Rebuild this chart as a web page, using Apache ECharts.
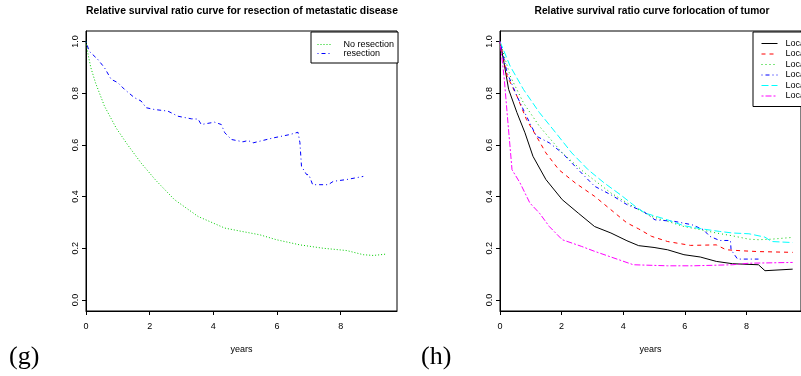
<!DOCTYPE html>
<html><head><meta charset="utf-8">
<script src="https://cdn.jsdelivr.net/npm/echarts@6/dist/echarts.min.js"></script>
<style>html,body{margin:0;padding:0;background:#fff}#c{width:801px;height:376px}</style>
</head><body><div id="c"></div>
<script>
const xTicks = [0, 2, 4, 6, 8];
const yTicks = [0, 0.2, 0.4, 0.6, 0.8, 1.0];

// Left panel: resection of metastatic disease
const noResT = [0, 0.05, 0.15, 0.3, 0.58, 0.95, 1.31, 1.73, 2.2, 2.78, 3.52, 4.36, 4.9, 5.46, 5.98, 6.72, 7.45, 8.19, 8.71, 9.03, 9.4];
const noResV = [1.0, 0.96, 0.9, 0.84, 0.75, 0.665, 0.6, 0.53, 0.462, 0.388, 0.323, 0.278, 0.265, 0.252, 0.233, 0.213, 0.2, 0.191, 0.175, 0.172, 0.177];
const resT = [0, 0.1, 0.37, 0.58, 0.79, 1.0, 1.21, 1.52, 1.73, 1.89, 2.15, 2.57, 2.89, 3.31, 3.52, 3.62, 4.04, 4.25, 4.36, 4.57, 4.93, 5.09, 5.25, 5.88, 6.4, 6.66, 6.72, 6.77, 6.93, 7.0, 7.12, 7.61, 7.77, 8.19, 8.71];
const resV = [1.0, 0.963, 0.931, 0.899, 0.854, 0.841, 0.815, 0.783, 0.77, 0.744, 0.737, 0.731, 0.711, 0.701, 0.70, 0.679, 0.688, 0.679, 0.647, 0.621, 0.612, 0.617, 0.608, 0.627, 0.64, 0.649, 0.609, 0.517, 0.485, 0.485, 0.446, 0.446, 0.459, 0.466, 0.478];

// Right panel: location of tumor
const loc1T = [0, 0.13, 0.28, 0.55, 0.81, 1.07, 1.49, 2.02, 2.54, 3.07, 3.6, 4.12, 4.5, 5.0, 5.44, 5.97, 6.5, 7.02, 7.55, 8.39, 8.6, 9.5];
const loc1V = [1.0, 0.918, 0.815, 0.725, 0.647, 0.556, 0.466, 0.388, 0.336, 0.284, 0.259, 0.229, 0.21, 0.203, 0.194, 0.175, 0.166, 0.149, 0.14, 0.136, 0.113, 0.119];
const loc2T = [0, 0.23, 0.55, 0.86, 1.18, 1.49, 1.91, 2.44, 3.07, 3.6, 4.12, 4.5, 4.92, 5.44, 6.18, 7.02, 7.34, 7.87, 8.39, 9.5];
const loc2V = [1.0, 0.867, 0.789, 0.698, 0.634, 0.569, 0.504, 0.453, 0.401, 0.349, 0.298, 0.275, 0.246, 0.226, 0.211, 0.213, 0.194, 0.19, 0.187, 0.184];
const loc3T = [0, 0.33, 0.76, 1.28, 2.02, 2.75, 3.6, 4.39, 4.92, 5.44, 5.97, 6.5, 7.02, 7.55, 8.08, 8.39, 8.81, 9.5];
const loc3V = [1.0, 0.867, 0.763, 0.672, 0.569, 0.492, 0.414, 0.356, 0.323, 0.304, 0.284, 0.272, 0.259, 0.248, 0.235, 0.233, 0.235, 0.242];
const loc4T = [0, 0.23, 0.55, 0.86, 1.18, 1.6, 2.02, 2.54, 3.07, 3.6, 4.12, 4.65, 5.03, 5.66, 6.23, 6.6, 6.81, 7.13, 7.48, 7.5, 7.71, 8.39];
const loc4V = [1.0, 0.88, 0.789, 0.711, 0.634, 0.608, 0.569, 0.504, 0.44, 0.407, 0.369, 0.343, 0.31, 0.304, 0.291, 0.272, 0.246, 0.23, 0.23, 0.194, 0.158, 0.158];
const loc5T = [0, 0.33, 0.76, 1.28, 1.81, 2.33, 2.86, 3.38, 3.91, 4.39, 4.71, 5.44, 5.97, 6.6, 7.13, 7.55, 8.08, 8.6, 8.81, 9.5];
const loc5V = [1.0, 0.905, 0.815, 0.725, 0.647, 0.569, 0.504, 0.453, 0.407, 0.362, 0.336, 0.31, 0.287, 0.274, 0.265, 0.259, 0.256, 0.243, 0.226, 0.222];
const loc6T = [0, 0.13, 0.23, 0.39, 0.65, 0.97, 1.28, 1.6, 2.02, 2.65, 3.07, 3.7, 4.33, 5.44, 5.5, 6.28, 7.55, 8.08, 9.5];
const loc6V = [1.0, 0.867, 0.725, 0.504, 0.453, 0.375, 0.336, 0.284, 0.233, 0.207, 0.188, 0.162, 0.136, 0.132, 0.127, 0.132, 0.136, 0.142, 0.145];

const FONT = 'Liberation Sans';
const zip = (t, v) => t.map((x, i) => [x, v[i]]);

function xAx(gi) {
  return {
    type: 'value', gridIndex: gi, min: 0, max: 9.77,
    axisLine: { show: true, onZero: false, lineStyle: { color: '#000', width: 1 } },
    axisTick: { show: true, customValues: xTicks, length: 4, lineStyle: { color: '#000' } },
    axisLabel: { customValues: xTicks, formatter: v => String(v), fontSize: 9, color: '#000', margin: 11, fontFamily: FONT },
    splitLine: { show: false },
    name: 'years', nameLocation: 'middle', nameGap: 34,
    nameTextStyle: { fontSize: 9, color: '#000', fontFamily: FONT }
  };
}
function yAx(gi) {
  return {
    type: 'value', gridIndex: gi, min: -0.043, max: 1.041,
    axisLine: { show: true, onZero: false, lineStyle: { color: '#000', width: 1 } },
    axisTick: { show: true, customValues: yTicks, length: 4, lineStyle: { color: '#000' } },
    axisLabel: { customValues: yTicks, formatter: v => v.toFixed(1), rotate: 90, fontSize: 9, color: '#000', margin: 6, fontFamily: FONT },
    splitLine: { show: false }
  };
}
function ln(name, gi, data, color, dash) {
  return {
    type: 'line', name, xAxisIndex: gi, yAxisIndex: gi, data, symbol: 'none', showSymbol: false,
    lineStyle: { color, width: 1, type: dash }, itemStyle: { color }, animation: false
  };
}
const legendBase = {
  orient: 'vertical', borderColor: '#000', borderWidth: 1, backgroundColor: '#fff',
  borderRadius: 0, inactiveColor: '#000', selectedMode: false, icon: 'inherit',
  itemStyle: { opacity: 0 }, lineStyle: { width: 1 }
};

const chart = echarts.init(document.getElementById('c'), null, { renderer: 'canvas' });
chart.setOption({
  animation: false,
  backgroundColor: '#fff',
  grid: [
    { left: 86, top: 31, width: 311, height: 280, show: true, borderColor: '#000', borderWidth: 1, backgroundColor: 'transparent' },
    { left: 500, top: 31, width: 311, height: 280, show: true, borderColor: '#000', borderWidth: 1, backgroundColor: 'transparent' }
  ],
  xAxis: [xAx(0), xAx(1)],
  yAxis: [yAx(0), yAx(1)],
  legend: [
    Object.assign({}, legendBase, {
      data: ['No resection', 'resection'], left: 311, top: 32, itemWidth: 14, itemHeight: 9, itemGap: 0,
      padding: [8, 4, 5, 6],
      textStyle: { fontSize: 9, fontFamily: FONT, color: '#000', padding: [0, 0, 0, 7] }
    }),
    Object.assign({}, legendBase, {
      data: ['Location 1', 'Location 2', 'Location 3', 'Location 4', 'Location 5', 'Location 6'],
      left: 753, top: 32, itemWidth: 16, itemHeight: 9, itemGap: 1.5, padding: [7, 4, 6, 8],
      textStyle: { fontSize: 9, fontFamily: FONT, color: '#000', padding: [0, 0, 0, 3] }
    })
  ],
  graphic: [
    { type: 'text', x: 242, y: 11, style: { text: 'Relative survival ratio curve for resection of metastatic disease', textAlign: 'center', textVerticalAlign: 'middle', font: 'bold 10.4px "Liberation Sans"', fill: '#000' } },
    { type: 'text', x: 652, y: 11, style: { text: 'Relative survival ratio curve forlocation of tumor', textAlign: 'center', textVerticalAlign: 'middle', font: 'bold 10.2px "Liberation Sans"', fill: '#000' } },
    { type: 'text', x: 9, y: 357, style: { text: '(g)', textAlign: 'left', textVerticalAlign: 'middle', font: '26px "Liberation Serif"', fill: '#000' } },
    { type: 'text', x: 421, y: 357, style: { text: '(h)', textAlign: 'left', textVerticalAlign: 'middle', font: '26px "Liberation Serif"', fill: '#000' } }
  ],
  series: [
    ln('No resection', 0, zip(noResT, noResV), '#00cd00', [1, 2]),
    ln('resection', 0, zip(resT, resV), '#0000ff', [1, 3, 4, 3]),
    ln('Location 1', 1, zip(loc1T, loc1V), '#000000', 'solid'),
    ln('Location 2', 1, zip(loc2T, loc2V), '#ff0000', [4, 4]),
    ln('Location 3', 1, zip(loc3T, loc3V), '#00cd00', [1, 3]),
    ln('Location 4', 1, zip(loc4T, loc4V), '#0000ff', [1, 3, 4, 3]),
    ln('Location 5', 1, zip(loc5T, loc5V), '#00ffff', [7, 3]),
    ln('Location 6', 1, zip(loc6T, loc6V), '#ff00ff', [2, 2, 6, 2])
  ]
});
</script></body></html>
